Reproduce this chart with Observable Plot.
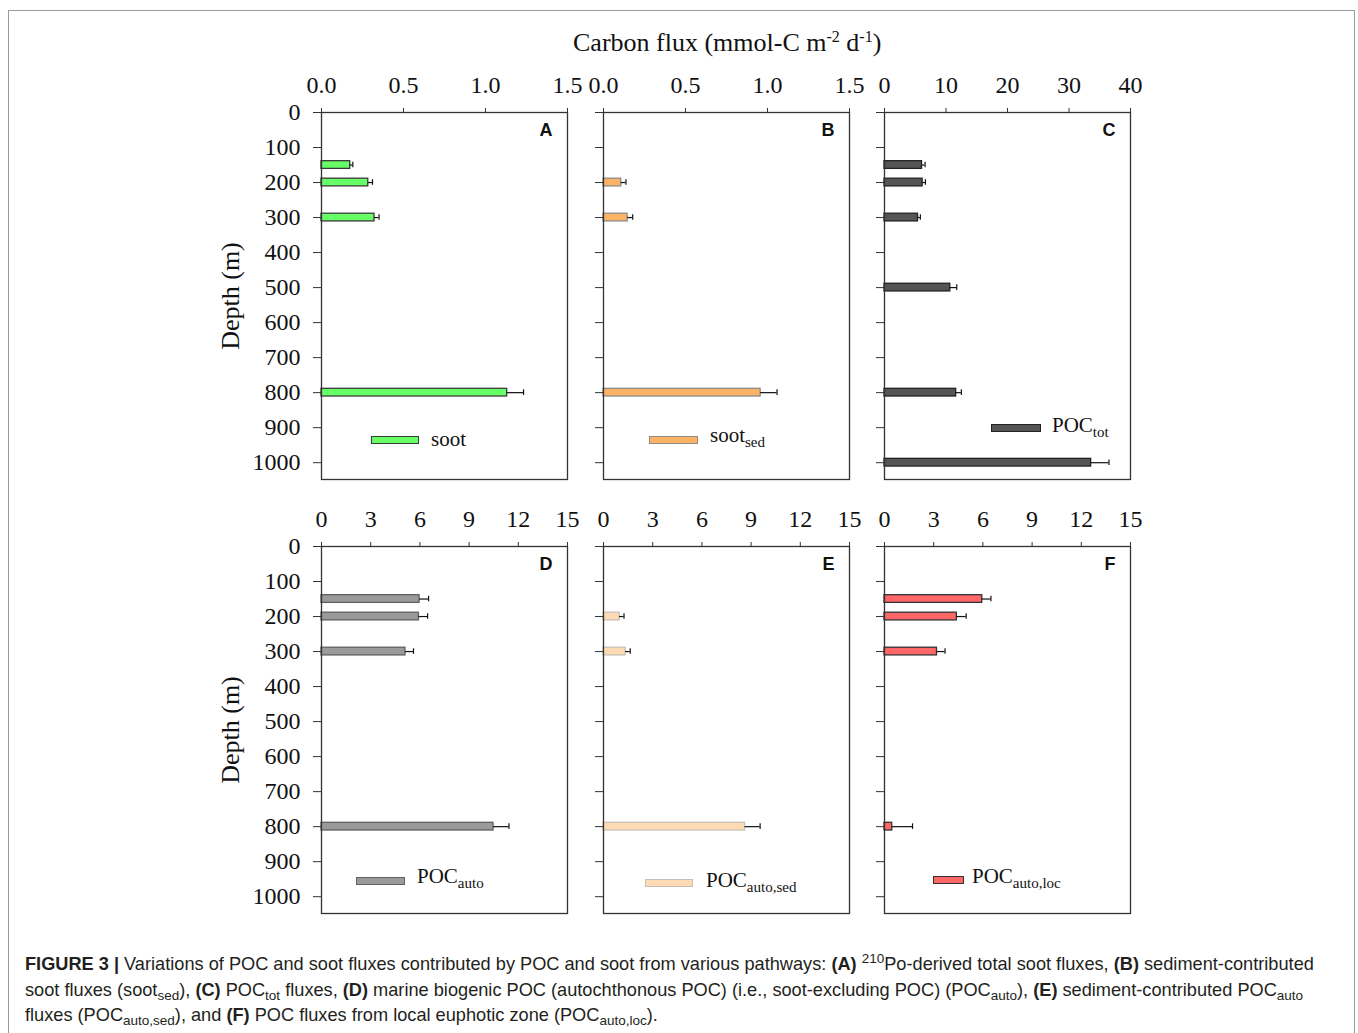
<!DOCTYPE html>
<html>
<head>
<meta charset="utf-8">
<script src="https://cdn.jsdelivr.net/npm/d3@7"></script>
<script src="https://cdn.jsdelivr.net/npm/@observablehq/plot@0.6"></script>
<style>
  html, body { margin: 0; padding: 0; background: #fff; overflow: hidden; }
  #wrap { position: relative; width: 1358px; height: 1033px; overflow: hidden; }
  #border { position: absolute; left: 8px; top: 10px; width: 1347px; height: 1040px; border: 1px solid #9a9a9a; box-sizing: border-box; }
  .panel { position: absolute; }
  .serif { font-family: "Liberation Serif", "Times New Roman", serif; color: #111; }
  #title { position: absolute; left: 573px; top: 30px; font-size: 26px; line-height: 26px; white-space: nowrap; }
  #title sup { font-size: 16px; vertical-align: 9px; line-height: 0; }
  .swatch { position: absolute; box-sizing: border-box; }
  .leg { position: absolute; font-size: 21px; line-height: 21px; white-space: nowrap; }
  .leg sub { font-size: 15px; vertical-align: -5px; line-height: 0; }
  #caption { position: absolute; left: 25px; top: 952px; font-family: "Liberation Sans", Arial, sans-serif; font-size: 18.2px; line-height: 25.5px; color: #231f20; white-space: nowrap; }
  #caption sub { font-size: 13.5px; vertical-align: -4px; line-height: 0; }
  #caption sup { font-size: 13.5px; vertical-align: 7px; line-height: 0; }
</style>
</head>
<body>
<div id="wrap">
  <div id="border"></div>
</div>
<script>
// ---------------- data ----------------
const panelLetters = ["A", "B", "C", "D", "E", "F"];
const seriesBase = ["soot", "soot", "POC", "POC", "POC", "POC"];
const seriesSub = ["", "sed", "tot", "auto", "auto,sed", "auto,loc"];
const depthTicks = [0, 100, 200, 300, 400, 500, 600, 700, 800, 900, 1000];
const xTicksSoot = [0, 0.5, 1.0, 1.5];
const xTicksTot = [0, 10, 20, 30, 40];
const xTicksAuto = [0, 3, 6, 9, 12, 15];

// A: total soot
const depthsA = [150, 200, 300, 800];
const sootFlux = [0.175, 0.285, 0.323, 1.132];
const sootErr = [0.016, 0.026, 0.028, 0.10];
// B: sediment-contributed soot
const depthsB = [200, 300, 800];
const sootSedFlux = [0.108, 0.147, 0.958];
const sootSedErr = [0.029, 0.031, 0.10];
// C: POC tot
const depthsC = [150, 200, 300, 500, 800, 1000];
const pocTotFlux = [6.1, 6.2, 5.45, 10.7, 11.65, 33.6];
const pocTotErr = [0.5, 0.45, 0.38, 1.05, 0.85, 2.9];
// D: POC auto
const depthsD = [150, 200, 300, 800];
const pocAutoFlux = [5.98, 5.94, 5.12, 10.49];
const pocAutoErr = [0.55, 0.53, 0.49, 0.94];
// E: POC auto,sed
const depthsE = [200, 300, 800];
const pocAutoSedFlux = [0.98, 1.35, 8.63];
const pocAutoSedErr = [0.27, 0.28, 0.92];
// F: POC auto,loc
const depthsF = [150, 200, 300, 800];
const pocAutoLocFlux = [5.96, 4.41, 3.2, 0.47];
const pocAutoLocErr = [0.53, 0.57, 0.49, 1.24];

const titleText = "Carbon flux (mmol-C m<sup>-2</sup> d<sup>-1</sup>)";
const yLabel = "Depth (m)";

// ---------------- styles / layout ----------------
const fills = ["#66ff66", "#fdb366", "#555555", "#9a9a9a", "#fddcb5", "#ff6666"];
const strokes = ["#3a3a3a", "#8a8a8a", "#222222", "#606060", "#c8c0b8", "#333333"];
const frameLefts = [321, 603, 884];
const frameTops = [112, 546];
const frameW = 246, frameH = 367;
const mL = 110, mR = 30, mT = 45, mB = 10;
// legend layout: swatchLeft, swatchCenterY, swatchWidth, textLeft, textBaseline
const legendLayout = [
  [371, 440, 48, 431, 447],
  [649, 440, 49, 710, 443],
  [991, 427.5, 50, 1052, 433],
  [356, 880.5, 49, 417, 884],
  [645, 883, 48, 706, 887.5],
  [933, 880, 31, 972, 884]
];

const panels = [
  {depths: depthsA, values: sootFlux, errors: sootErr, domain: [0, 1.5], ticks: xTicksSoot, fmt: d3.format(".1f")},
  {depths: depthsB, values: sootSedFlux, errors: sootSedErr, domain: [0, 1.5], ticks: xTicksSoot, fmt: d3.format(".1f")},
  {depths: depthsC, values: pocTotFlux, errors: pocTotErr, domain: [0, 40], ticks: xTicksTot, fmt: d3.format("d")},
  {depths: depthsD, values: pocAutoFlux, errors: pocAutoErr, domain: [0, 15], ticks: xTicksAuto, fmt: d3.format("d")},
  {depths: depthsE, values: pocAutoSedFlux, errors: pocAutoSedErr, domain: [0, 15], ticks: xTicksAuto, fmt: d3.format("d")},
  {depths: depthsF, values: pocAutoLocFlux, errors: pocAutoLocErr, domain: [0, 15], ticks: xTicksAuto, fmt: d3.format("d")}
];

const wrap = document.getElementById("wrap");
const serif = '"Liberation Serif", "Times New Roman", serif';
const sans = '"Liberation Sans", Arial, sans-serif';

panels.forEach((p, i) => {
  const col = i % 3, row = Math.floor(i / 3);
  const showY = col === 0;
  const data = p.depths.map((d, k) => ({depth: d, value: p.values[k], err: p.errors[k]}));
  const marks = [
    Plot.rectX(data, {
      y1: d => d.depth - 11, y2: d => d.depth + 11,
      x1: () => 0, x2: "value",
      fill: fills[i], stroke: strokes[i], strokeWidth: 1.3
    }),
    Plot.ruleY(data, {y: "depth", x1: "value", x2: d => d.value + d.err, stroke: "#111", strokeWidth: 1.2}),
    Plot.ruleX(data, {x: d => d.value + d.err, y1: d => d.depth - 8, y2: d => d.depth + 8, stroke: "#111", strokeWidth: 1.2}),
    Plot.frame({stroke: "#333", strokeWidth: 1.3}),
    Plot.axisX({anchor: "top", ticks: p.ticks, tickFormat: p.fmt, tickSize: 5, tickPadding: 15, label: null, stroke: "#333", fill: "#111", fontSize: 24, fontFamily: serif}),
    Plot.axisY({anchor: "left", ticks: depthTicks, tickSize: 8, tickPadding: 13, label: null, stroke: "#333", fill: "#111", fontSize: 24, fontFamily: serif,
      tickFormat: showY ? (d => String(d)) : (() => "")}),
    Plot.text([panelLetters[i]], {frameAnchor: "top-right", dx: -15, dy: 11, fontFamily: sans, fontWeight: "bold", fontSize: 18, fill: "#111"})
  ];
  if (showY) {
    marks.push(Plot.text([yLabel], {frameAnchor: "left", textAnchor: "middle", lineAnchor: "middle", rotate: -90, dx: -91, fontFamily: serif, fontSize: 26, fill: "#111"}));
  }
  const chart = Plot.plot({
    width: mL + frameW + mR,
    height: mT + frameH + mB,
    marginLeft: mL, marginRight: mR, marginTop: mT, marginBottom: mB,
    x: {domain: p.domain},
    y: {domain: [0, 1048], reverse: true},
    style: {background: "transparent", overflow: "visible", fontFamily: serif, fontSize: "24px"},
    marks
  });
  chart.classList.add("panel");
  chart.style.left = (frameLefts[col] - mL) + "px";
  chart.style.top = (frameTops[row] - mT) + "px";
  chart.style.maxWidth = "none";
  wrap.appendChild(chart);

  // legend
  const [sl, sc, sw, tl, tb] = legendLayout[i];
  const sh = 8;
  const sw_el = document.createElement("div");
  sw_el.className = "swatch";
  Object.assign(sw_el.style, {left: sl + "px", top: (sc - sh / 2) + "px", width: sw + "px", height: sh + "px",
    background: fills[i], border: "1.3px solid " + strokes[i]});
  wrap.appendChild(sw_el);
  const lg = document.createElement("div");
  lg.className = "leg serif";
  lg.style.left = tl + "px";
  lg.style.top = (tb - 17.6) + "px";
  lg.innerHTML = seriesBase[i] + (seriesSub[i] ? "<sub>" + seriesSub[i] + "</sub>" : "");
  wrap.appendChild(lg);
});

// title
const t = document.createElement("div");
t.id = "title";
t.className = "serif";
t.innerHTML = titleText;
wrap.appendChild(t);

// caption
const captionLines = [
  "<b>FIGURE 3 |</b> Variations of POC and soot fluxes contributed by POC and soot from various pathways: <b>(A)</b> <sup>210</sup>Po-derived total soot fluxes, <b>(B)</b> sediment-contributed",
  "soot fluxes (soot<sub>sed</sub>), <b>(C)</b> POC<sub>tot</sub> fluxes, <b>(D)</b> marine biogenic POC (autochthonous POC) (i.e., soot-excluding POC) (POC<sub>auto</sub>), <b>(E)</b> sediment-contributed POC<sub>auto</sub>",
  "fluxes (POC<sub>auto,sed</sub>), and <b>(F)</b> POC fluxes from local euphotic zone (POC<sub>auto,loc</sub>)."
];
const cap = document.createElement("div");
cap.id = "caption";
cap.innerHTML = captionLines.join("<br>");
wrap.appendChild(cap);
</script>
</body>
</html>
